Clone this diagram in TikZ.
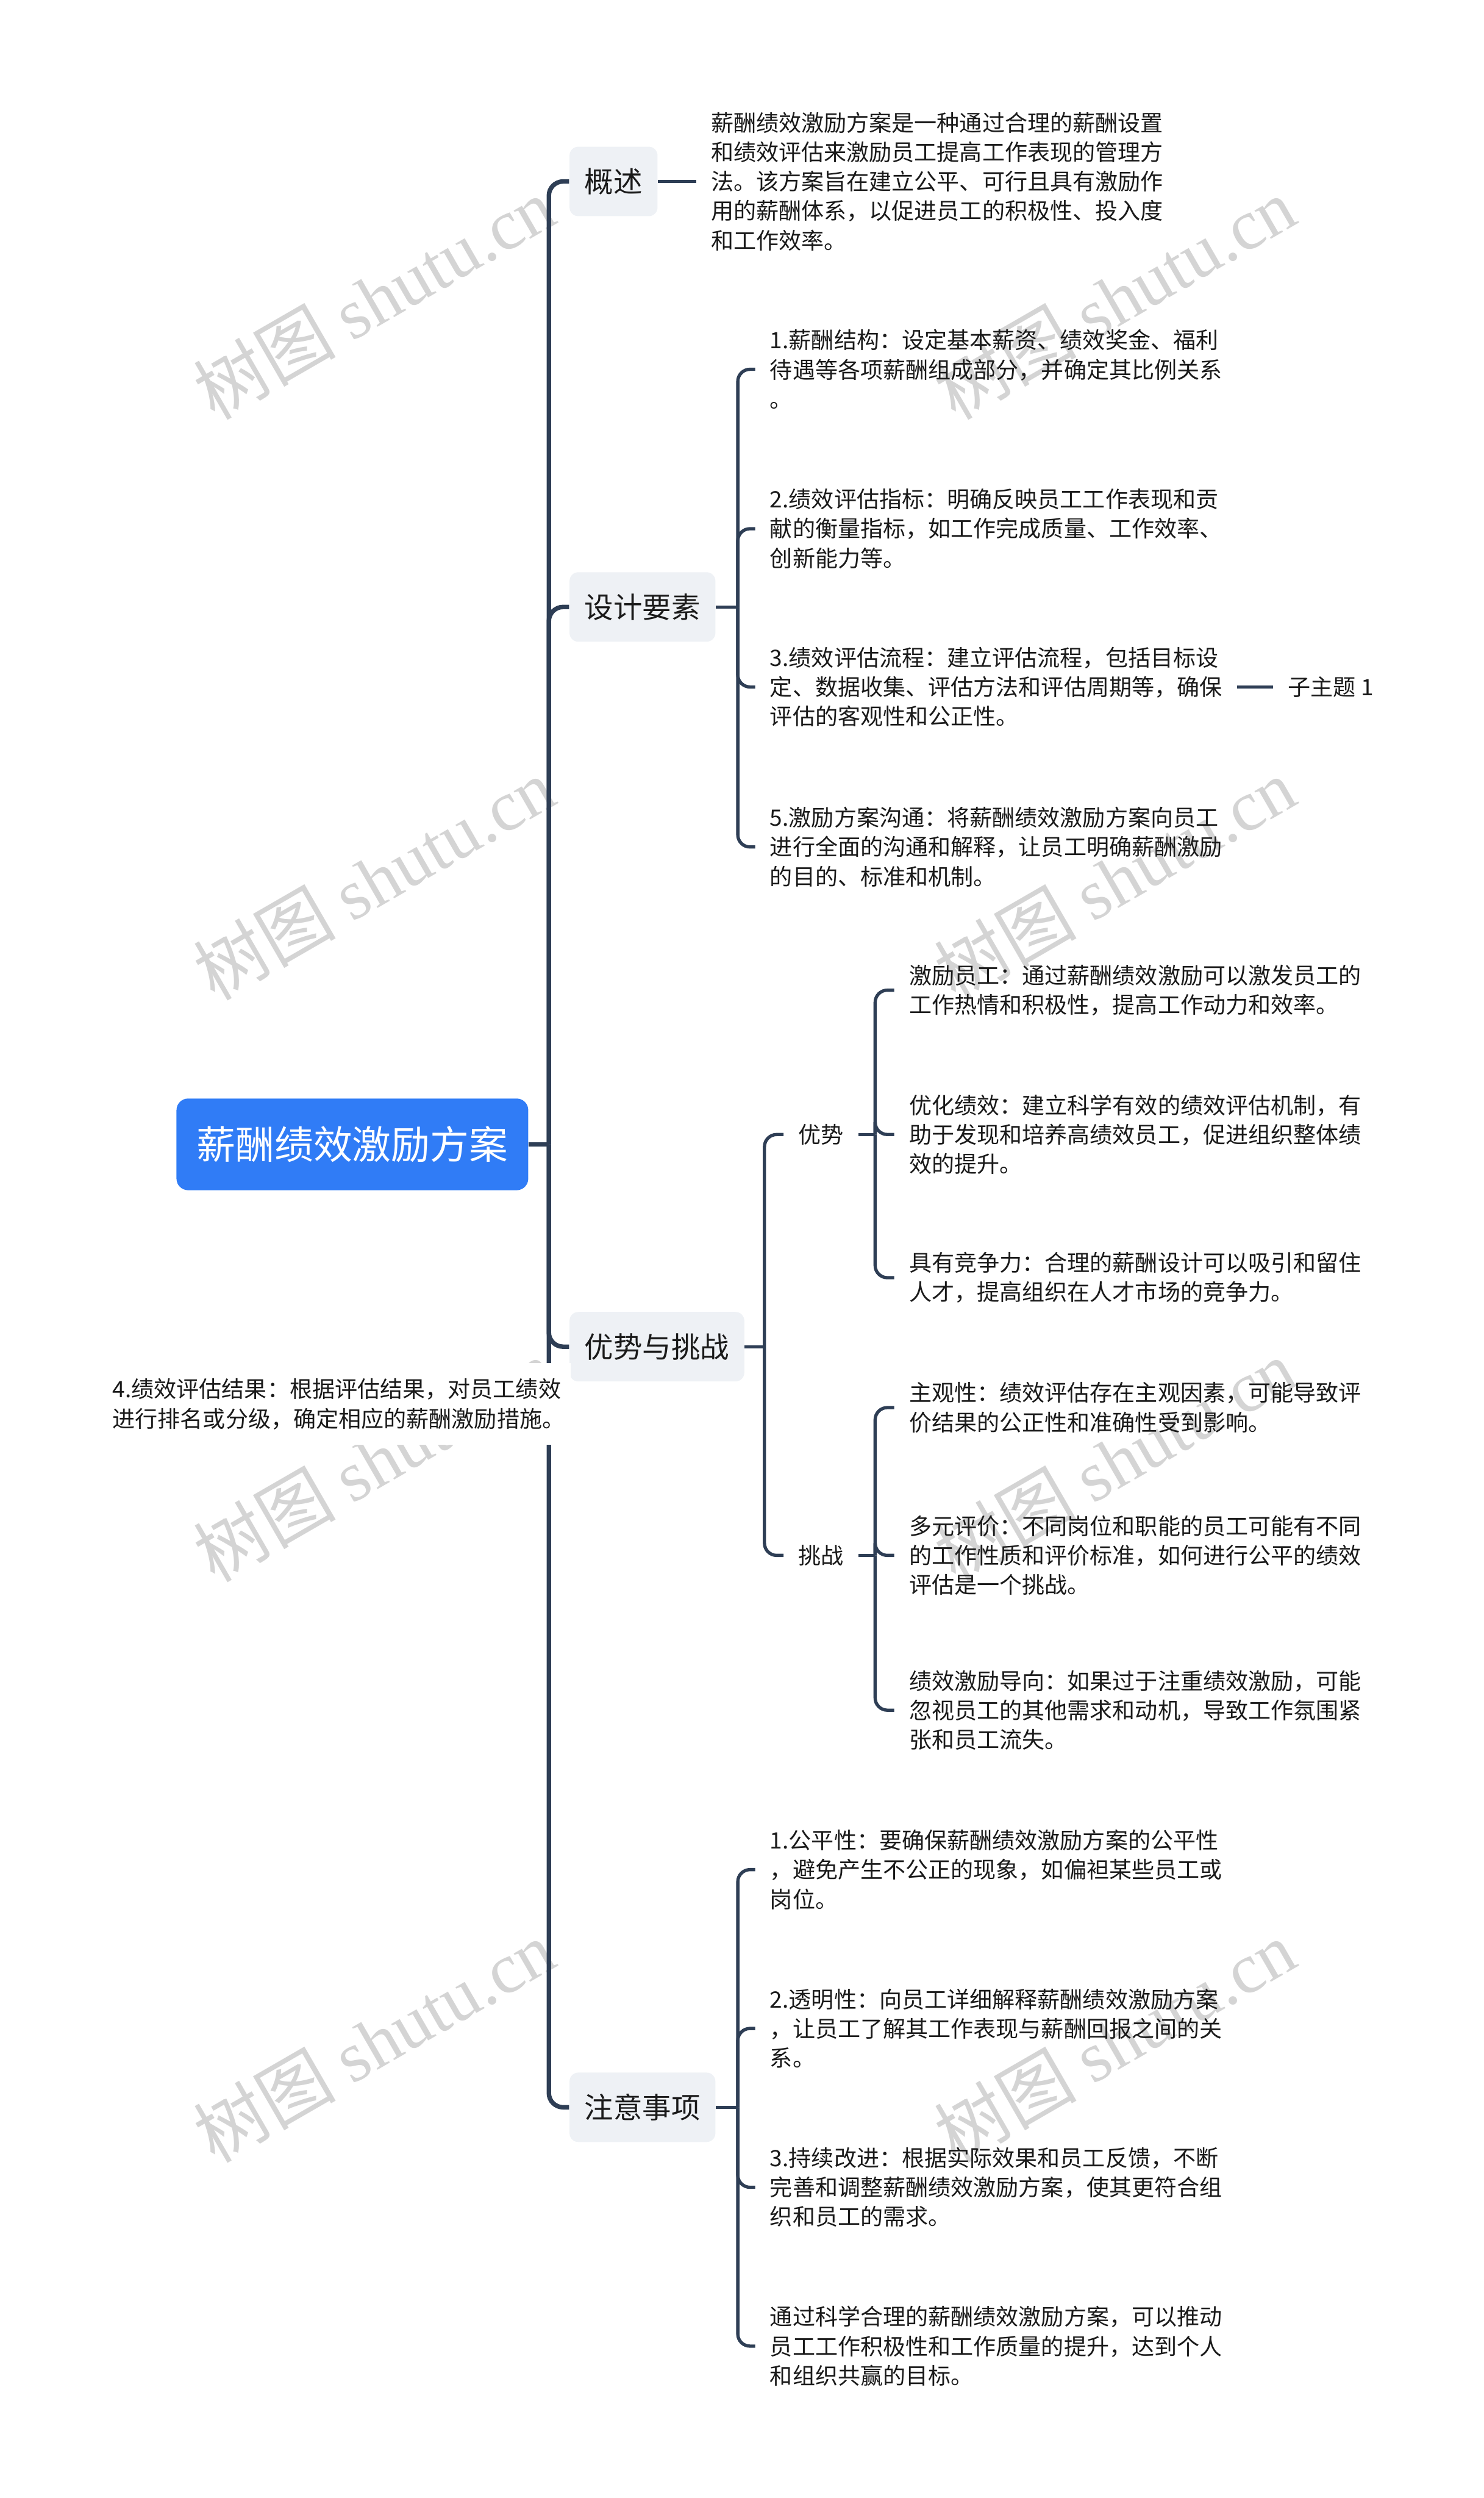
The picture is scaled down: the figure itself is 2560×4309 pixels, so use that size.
\documentclass[tikz,border=0pt]{standalone}
\usepackage{fontspec}
\setmainfont{Noto Sans CJK SC}
\newfontfamily\wmlatin{Liberation Serif}
\definecolor{linec}{HTML}{2E3E55}
\definecolor{rootblue}{HTML}{307CF6}
\definecolor{lonefill}{HTML}{EEF1F5}
\definecolor{wmgray}{HTML}{D4D4D4}
\definecolor{txt}{HTML}{1A1A1A}
\newcommand{\bodyfnt}{\fontsize{11.1pt}{14.45pt}\selectfont}
\newcommand{\lonefnt}{\fontsize{14.2pt}{17pt}\selectfont}
\newcommand{\rootfnt}{\fontsize{19.1pt}{22pt}\selectfont}
\newcommand{\wmfnt}{\fontsize{35pt}{40pt}\selectfont}
\tikzset{
  trunkline/.style={draw=linec, line width=2.2pt, rounded corners=7pt},
  subline/.style={draw=linec, line width=1.6pt, rounded corners=6pt},
  rootbox/.style={fill=rootblue, rounded corners=5.7pt, minimum width=172.7pt, minimum height=45pt, text=white, font=\rootfnt, inner sep=0pt},
  lonebox/.style={fill=lonefill, rounded corners=4.3pt, inner xsep=7.4pt, inner ysep=0pt, minimum height=34.1pt, font=\lonefnt, text=txt, anchor=west},
  leaf/.style={align=left, inner xsep=7.1pt, inner ysep=0pt, font=\bodyfnt, text=txt, anchor=west},
  wmark/.style={text=wmgray, font=\wmfnt, rotate=30, inner sep=0pt}
}
\begin{document}
\begin{tikzpicture}[x=0.1mm, y=-0.1mm]
\useasboundingbox (0,0) rectangle (2560,4309);
% watermarks
\foreach \wx in {645,1923}{
  \foreach \wy in {514,1516,2519,3521}{
    \node[wmark] at (\wx,\wy) {树图 {\wmlatin shutu.cn}};
  }
}
% root
\node[rootbox] (root) at (608,1974) {薪酬绩效激励方案};
\coordinate (tj) at (947,1974);
% level 1
\node[lonebox] (gs) at (982,313) {概述};
\node[lonebox] (sj) at (982,1047) {设计要素};
\node[lonebox] (ys) at (982,2323) {优势与挑战};
\node[lonebox] (zy) at (982,3635) {注意事项};
\draw[trunkline] (root.east) -- (tj);
\draw[trunkline] (tj) |- (gs.west);
\draw[trunkline] (tj) |- (sj.west);
\draw[trunkline] (tj) |- (ys.west);
\draw[trunkline] (tj) |- (zy.west);
% floating topic
\node[align=left, font=\bodyfnt, text=txt, fill=white, inner xsep=3pt, inner ysep=0pt, minimum height=40pt, anchor=west] (fl) at (183,2422) {4.绩效评估结果：根据评估结果，对员工绩效\\进行排名或分级，确定相应的薪酬激励措施。};
% 概述
\node[leaf] (gs1) at (1201,313) {薪酬绩效激励方案是一种通过合理的薪酬设置\\和绩效评估来激励员工提高工作表现的管理方\\法。该方案旨在建立公平、可行且具有激励作\\用的薪酬体系，以促进员工的积极性、投入度\\和工作效率。};
\draw[subline] (gs.east) -- (gs1.west);
% 设计要素
\coordinate (b1) at (1273,1047);
\node[leaf] (d1) at (1303,637) {1.薪酬结构：设定基本薪资、绩效奖金、福利\\待遇等各项薪酬组成部分，并确定其比例关系\\。};
\node[leaf] (d2) at (1303,912) {2.绩效评估指标：明确反映员工工作表现和贡\\献的衡量指标，如工作完成质量、工作效率、\\创新能力等。};
\node[leaf] (d3) at (1303,1185) {3.绩效评估流程：建立评估流程，包括目标设\\定、数据收集、评估方法和评估周期等，确保\\评估的客观性和公正性。};
\node[leaf] (d5) at (1303,1461) {5.激励方案沟通：将薪酬绩效激励方案向员工\\进行全面的沟通和解释，让员工明确薪酬激励\\的目的、标准和机制。};
\node[leaf] (zt) at (2197,1185) {子主题 1};
\draw[subline] (sj.east) -- (b1);
\draw[subline] (b1) |- (d1.west);
\draw[subline] (b1) |- (d2.west);
\draw[subline] (b1) |- (d3.west);
\draw[subline] (b1) |- (d5.west);
\draw[subline] (d3.east) -- (zt.west);
% 优势与挑战
\coordinate (b2) at (1319,2323);
\node[leaf] (yo) at (1352,1957) {优势};
\node[leaf] (tz) at (1352,2683) {挑战};
\draw[subline] (ys.east) -- (b2);
\draw[subline] (b2) |- (yo.west);
\draw[subline] (b2) |- (tz.west);
\coordinate (b3) at (1510,1957);
\node[leaf] (y1) at (1543,1708) {激励员工：通过薪酬绩效激励可以激发员工的\\工作热情和积极性，提高工作动力和效率。};
\node[leaf] (y2) at (1543,1957) {优化绩效：建立科学有效的绩效评估机制，有\\助于发现和培养高绩效员工，促进组织整体绩\\效的提升。};
\node[leaf] (y3) at (1543,2204) {具有竞争力：合理的薪酬设计可以吸引和留住\\人才，提高组织在人才市场的竞争力。};
\draw[subline] (yo.east) -- (b3);
\draw[subline] (b3) |- (y1.west);
\draw[subline] (b3) |- (y2.west);
\draw[subline] (b3) |- (y3.west);
\coordinate (b4) at (1510,2683);
\node[leaf] (t1) at (1543,2428) {主观性：绩效评估存在主观因素，可能导致评\\价结果的公正性和准确性受到影响。};
\node[leaf] (t2) at (1543,2683) {多元评价：不同岗位和职能的员工可能有不同\\的工作性质和评价标准，如何进行公平的绩效\\评估是一个挑战。};
\node[leaf] (t3) at (1543,2950) {绩效激励导向：如果过于注重绩效激励，可能\\忽视员工的其他需求和动机，导致工作氛围紧\\张和员工流失。};
\draw[subline] (tz.east) -- (b4);
\draw[subline] (b4) |- (t1.west);
\draw[subline] (b4) |- (t2.west);
\draw[subline] (b4) |- (t3.west);
% 注意事项
\coordinate (b5) at (1273,3635);
\node[leaf] (z1) at (1303,3225) {1.公平性：要确保薪酬绩效激励方案的公平性\\，避免产生不公正的现象，如偏袒某些员工或\\岗位。};
\node[leaf] (z2) at (1303,3499) {2.透明性：向员工详细解释薪酬绩效激励方案\\，让员工了解其工作表现与薪酬回报之间的关\\系。};
\node[leaf] (z3) at (1303,3773) {3.持续改进：根据实际效果和员工反馈，不断\\完善和调整薪酬绩效激励方案，使其更符合组\\织和员工的需求。};
\node[leaf] (z4) at (1303,4047) {通过科学合理的薪酬绩效激励方案，可以推动\\员工工作积极性和工作质量的提升，达到个人\\和组织共赢的目标。};
\draw[subline] (zy.east) -- (b5);
\draw[subline] (b5) |- (z1.west);
\draw[subline] (b5) |- (z2.west);
\draw[subline] (b5) |- (z3.west);
\draw[subline] (b5) |- (z4.west);
\end{tikzpicture}
\end{document}
